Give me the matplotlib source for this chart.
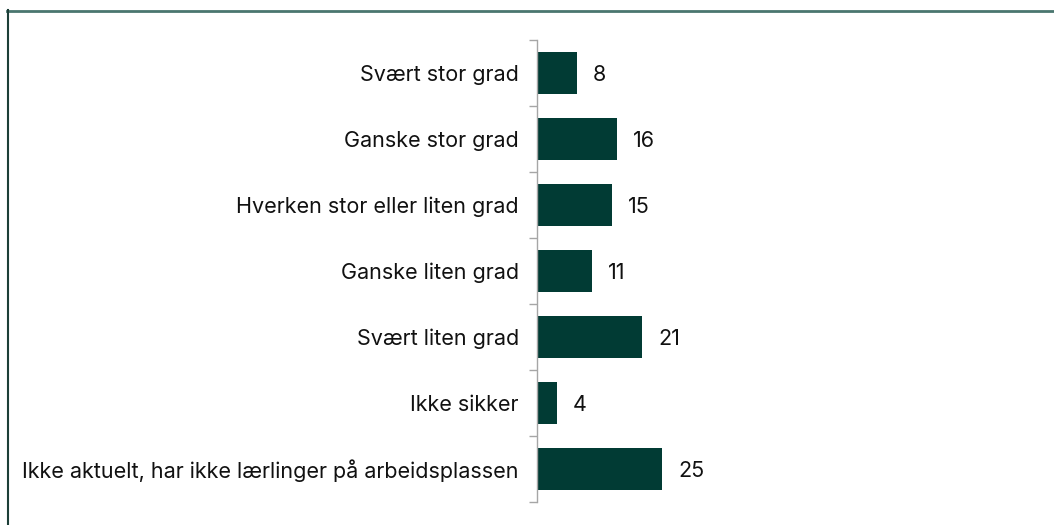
import matplotlib
matplotlib.use('Agg')
import matplotlib.pyplot as plt
from matplotlib.lines import Line2D
import numpy as np

kategorier = [
    "Svært stor grad",
    "Ganske stor grad",
    "Hverken stor eller liten grad",
    "Ganske liten grad",
    "Svært liten grad",
    "Ikke sikker",
    "Ikke aktuelt, har ikke lærlinger på arbeidsplassen",
]
verdier = [8, 16, 15, 11, 21, 4, 25]

plt.rcParams['font.family'] = ['Inter', 'DejaVu Sans']

fig = plt.figure(figsize=(10.54, 5.25), dpi=100)
ax = fig.add_axes([0.5095, 0.0438, 0.475, 0.88])

y = np.arange(len(kategorier))
ax.barh(y, verdier, height=0.65, color='#013b34')
for yi, v in zip(y, verdier):
    ax.text(v + 3.2, yi + 0.03, str(v), va='center', ha='left', fontsize=15.5, color='#111111')

ax.set_ylim(len(kategorier) - 0.5, -0.5)
ax.set_xlim(0, 100)
ax.set_yticks(y)
ax.set_yticklabels(kategorier, fontsize=15.5, color='#111111')
ax.tick_params(axis='y', which='major', length=0, pad=13)
ax.set_yticks(np.arange(-0.5, len(kategorier)), minor=True)
ax.tick_params(axis='y', which='minor', length=6, width=1, color='#a6a6a6')
ax.set_xticks([])
for s in ['top', 'right', 'bottom']:
    ax.spines[s].set_visible(False)
ax.spines['left'].set_color('#a6a6a6')
ax.spines['left'].set_linewidth(1)

# ramme oppe og til venstre
fig.add_artist(Line2D([7 / 1054, 1.0], [1 - 10.5 / 525, 1 - 10.5 / 525],
                      transform=fig.transFigure, color='#4a766f', linewidth=2))
fig.add_artist(Line2D([7.5 / 1054, 7.5 / 1054], [0, 1 - 10 / 525],
                      transform=fig.transFigure, color='#1d3f38', linewidth=1.5))

fig.savefig('out.png', dpi=100)
